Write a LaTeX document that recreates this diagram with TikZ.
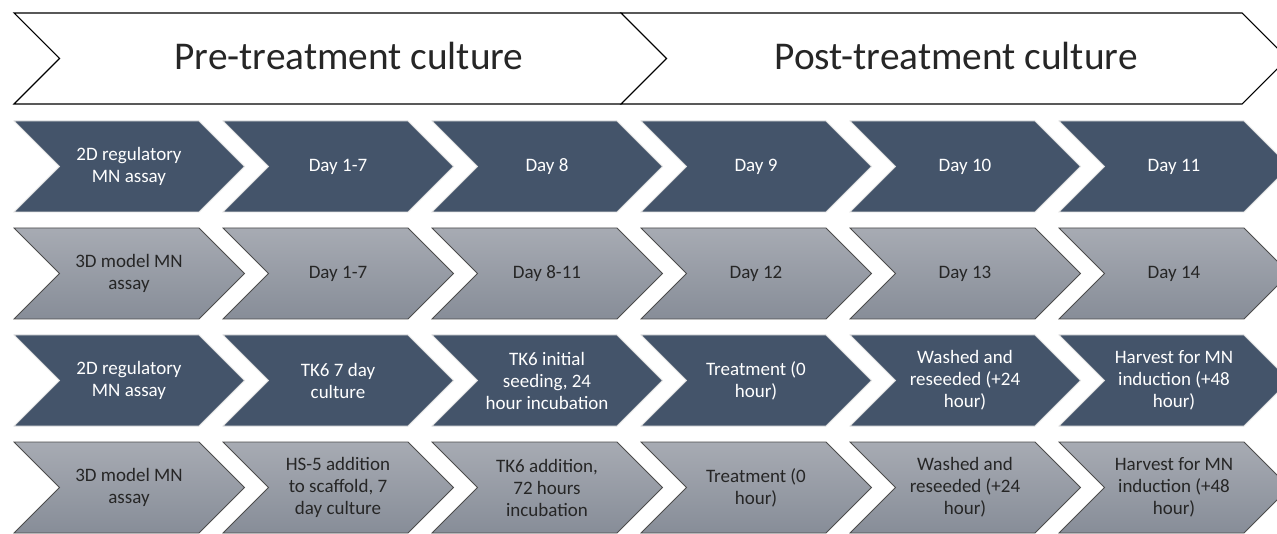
\documentclass[tikz,border=0pt]{standalone}
\usepackage{fontspec}
\setmainfont{Carlito}
\usetikzlibrary{positioning}

\definecolor{slate}{HTML}{44546A}
\definecolor{greytop}{HTML}{A7ABB3}
\definecolor{greybot}{HTML}{878D98}
\definecolor{inkgrey}{HTML}{262626}

% one chevron: top left corner, width of the body; height 91, point depth 45.5
\newcommand{\chevronpath}[3]{(#1,#2) -- ++(#3,0) -- ++(45.5,45.5) -- ++(-45.5,45.5)
  -- ++(-#3,0) -- ++(45.5,-45.5) -- cycle}

\begin{document}
\begin{tikzpicture}
        [x=0.75pt,y=-0.75pt,
         phase/.style={draw=black, line width=0.8pt, fill=white},
         darkstep/.style={fill=slate, draw=gray!25, line width=0.6pt},
         greystep/.style={top color=greytop, bottom color=greybot,
           draw=gray!60!black, line width=0.6pt},
         phaselabel/.style={text=inkgrey, anchor=base,
           font=\fontsize{29.5}{34}\selectfont},
         darklabel/.style={text=white, align=center,
           font=\fontsize{14.25}{16.5}\selectfont},
         greylabel/.style={text=inkgrey, align=center,
           font=\fontsize{14.25}{16.5}\selectfont}]
        \useasboundingbox (0,0) rectangle (1277,534);
        \clip (0,0) rectangle (1277,534);

        % the two phases on top
        \draw[phase] \chevronpath{14}{13}{607};
        \draw[phase] \chevronpath{621}{13}{621};
        \node[phaselabel] (pre) at (349,70) {Pre-treatment culture};
        \node[phaselabel] (post) at (956,70) {Post-treatment culture};

        % days, 2D assay
        \foreach \txt [count=\i from 0] in {{2D regulatory\\MN assay}, {Day 1-7},
            {Day 8}, {Day 9}, {Day 10}, {Day 11}} {
          \draw[darkstep] \chevronpath{14+209*\i}{121}{185};
          \node[darklabel] (regday\i) at (129+209*\i,166.5) {\txt};
        }

        % days, 3D model
        \foreach \txt [count=\i from 0] in {{3D model MN\\assay}, {Day 1-7},
            {Day 8-11}, {Day 12}, {Day 13}, {Day 14}} {
          \draw[greystep] \chevronpath{14+209*\i}{228}{185};
          \node[greylabel] (modday\i) at (129+209*\i,273.5) {\txt};
        }

        % steps, 2D assay
        \foreach \txt [count=\i from 0] in {{2D regulatory\\MN assay},
            {TK6 7 day\\culture}, {TK6 initial\\seeding, 24\\hour incubation},
            {Treatment (0\\hour)}, {Washed and\\reseeded (+24\\hour)},
            {Harvest for MN\\induction (+48\\hour)}} {
          \draw[darkstep] \chevronpath{14+209*\i}{335}{185};
          \node[darklabel] (regstep\i) at (129+209*\i,380.5) {\txt};
        }

        % steps, 3D model
        \foreach \txt [count=\i from 0] in {{3D model MN\\assay},
            {HS-5 addition\\to scaffold, 7\\day culture},
            {TK6 addition,\\72 hours\\incubation}, {Treatment (0\\hour)},
            {Washed and\\reseeded (+24\\hour)},
            {Harvest for MN\\induction (+48\\hour)}} {
          \draw[greystep] \chevronpath{14+209*\i}{442}{185};
          \node[greylabel] (modstep\i) at (129+209*\i,487.5) {\txt};
        }
      \end{tikzpicture}
\end{document}
